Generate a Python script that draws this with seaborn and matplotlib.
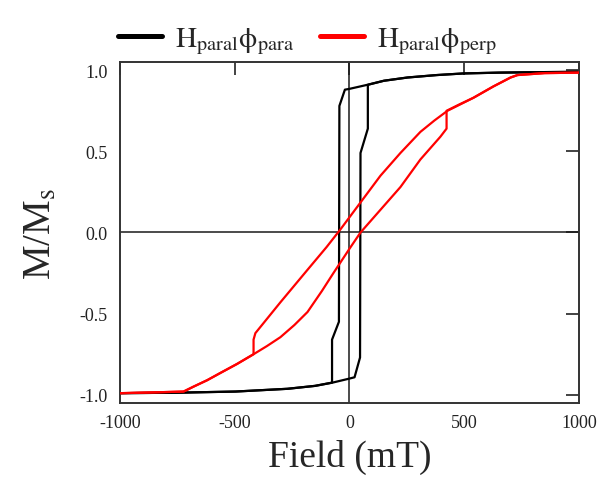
import numpy as np
import pandas as pd
import matplotlib
matplotlib.use("Agg")
import matplotlib.pyplot as plt
from matplotlib.lines import Line2D
import seaborn as sns

# ---- data ----
# black loop: H parallel, phi parallel
para_desc_H = [1000, 832, 650, 497, 380, 253, 150, 78, 0, -20, -44, -46, -76, -76, -150, -270, -497, -750, -1000]
para_desc_M = [0.99, 0.988, 0.985, 0.98, 0.97, 0.955, 0.935, 0.91, 0.885, 0.88, 0.78, -0.55, -0.66, -0.925, -0.945, -0.963, -0.98, -0.987, -0.99]
para_asc_H = [-1000, -750, -497, -270, -150, -74, 0, 22, 46, 48, 80, 80, 150, 253, 380, 497, 650, 832, 1000]
para_asc_M = [-0.99, -0.987, -0.98, -0.963, -0.945, -0.925, -0.9, -0.892, -0.77, 0.49, 0.64, 0.91, 0.935, 0.955, 0.97, 0.98, 0.985, 0.988, 0.99]

# red loop: H parallel, phi perpendicular
perp_desc_H = [1000, 850, 732, 702, 627, 540, 427, 370, 309, 222, 135, 48, -39, -100, -183, -301, -410, -418, -418, -490, -562, -620, -680, -723, -850, -1000]
perp_desc_M = [0.985, 0.982, 0.97, 0.955, 0.90, 0.83, 0.75, 0.69, 0.62, 0.49, 0.35, 0.185, 0.02, -0.09, -0.23, -0.43, -0.62, -0.66, -0.75, -0.81, -0.865, -0.91, -0.95, -0.98, -0.985, -0.99]
perp_asc_H = [-1000, -850, -723, -680, -620, -562, -490, -418, -360, -301, -240, -183, -120, -70, 0, 48, 135, 222, 309, 396, 423, 423, 480, 540, 627, 702, 732, 850, 1000]
perp_asc_M = [-0.99, -0.985, -0.98, -0.95, -0.91, -0.865, -0.81, -0.75, -0.70, -0.645, -0.57, -0.49, -0.36, -0.25, -0.10, 0.0, 0.14, 0.28, 0.45, 0.59, 0.64, 0.75, 0.79, 0.83, 0.90, 0.955, 0.97, 0.982, 0.985]

x_ticks = [-1000, -500, 0, 500, 1000]
y_ticks = [-1.0, -0.5, 0.0, 0.5, 1.0]
label_para = r'$\mathrm{H}_{\mathrm{paral}}\mathrm{\phi}_{\mathrm{para}}$'
label_perp = r'$\mathrm{H}_{\mathrm{paral}}\mathrm{\phi}_{\mathrm{perp}}$'

# ---- style ----
sns.set_style("white")
plt.rcParams['font.family'] = ['Liberation Serif', 'DejaVu Serif']
plt.rcParams['mathtext.fontset'] = 'stix'

fig = plt.figure(figsize=(5.99, 4.89), dpi=100)
ax = fig.add_axes([0.2003, 0.174, 0.7663, 0.697])

def branch(H, M, name, part):
    return pd.DataFrame({"H": H, "M": M, "series": name, "part": part})

df = pd.concat([
    branch(para_desc_H, para_desc_M, "para", "desc"),
    branch(para_asc_H, para_asc_M, "para", "asc"),
    branch(perp_desc_H, perp_desc_M, "perp", "desc"),
    branch(perp_asc_H, perp_asc_M, "perp", "asc"),
], ignore_index=True)

ax.axhline(0, color="#1a1a1a", lw=1.1, zorder=1)
ax.axvline(0, color="#1a1a1a", lw=1.1, zorder=1)

colors = {"para": "#000000", "perp": "#ff0000"}
for (s, p), g in df.groupby(["series", "part"], sort=False):
    sns.lineplot(data=g, x="H", y="M", sort=False, estimator=None, ax=ax,
                 color=colors[s], lw=1.6, legend=False, zorder=3 if s == "perp" else 2)

ax.set_xlim(-1000, 1000)
ax.set_ylim(-1.05, 1.05)
ax.set_xticks(x_ticks)
ax.set_yticks(y_ticks)
ax.set_xticklabels([str(v) for v in x_ticks])
ax.set_yticklabels([f"{v:.1f}" for v in y_ticks])
ax.tick_params(direction="in", length=9.5, width=1.2, top=True, right=True,
               labelsize=13, color="#222222", labelcolor="#222222")
ax.tick_params(axis="x", pad=8)
ax.tick_params(axis="y", pad=9)
for sp in ax.spines.values():
    sp.set_color("#333333")
    sp.set_linewidth(1.4)

ax.set_xlabel("Field (mT)", fontsize=27, labelpad=6)
ax.set_ylabel(r"M/M$_\mathrm{s}$", fontsize=28, labelpad=14)

handles = [Line2D([0], [0], color="black", lw=3.6), Line2D([0], [0], color="red", lw=3.6)]
fig.legend(handles, [label_para, label_perp], loc="center", bbox_to_anchor=(0.513, 0.915),
           ncol=2, frameon=False, fontsize=21, handlelength=1.5, handletextpad=0.45,
           columnspacing=0.9)

fig.savefig("out.png", dpi=100)
